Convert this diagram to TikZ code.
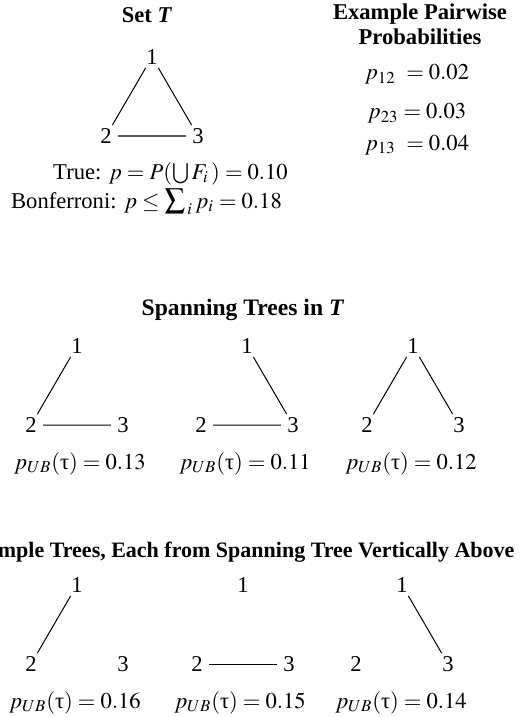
\documentclass[tikz,border=0pt]{standalone}
\usepackage{mathptmx}
\usepackage[no-math]{fontspec}
\setmainfont{Liberation Serif}
\usetikzlibrary{positioning}

\newcommand{\ptau}{\mbox{τ}}
\newcommand{\bigsum}{\mathop{\mbox{\fontsize{14.5}{14.5}\selectfont$\sum$}}\nolimits}

\begin{document}
\begin{tikzpicture}[
  x=0.5pt, y=-0.5pt,
  font=\fontsize{11.3}{13.6}\selectfont,
  vert/.style={inner xsep=3pt, inner ysep=1.5pt},
  treeedge/.style={line width=0.5pt},
  ttl/.style={font=\fontsize{11.3}{12.5}\selectfont\bfseries, anchor=base},
  lab/.style={anchor=base},
  node distance=39.5pt and 23pt, on grid
]
\useasboundingbox (0,0) rectangle (522,717);
% set T and its bounds
\node[ttl] (settitle) at (147,22.6) {Set \textit{T}};
\node[vert] (a1) at (152,57) {1};
\node[vert, below left=of a1] (a2) {2};
\node[vert, below right=of a1] (a3) {3};
\draw[treeedge] (a1) -- (a2) -- (a3) -- (a1);
\node[lab] (truep) at (170.5,179) {True: $p = P(\bigcup F_i\,) = 0.10$};
\node[lab] (bonf) at (146.5,208) {Bonferroni: $p \le \bigsum_{\,i} p_i = 0.18$};
% pairwise values
\node[ttl, align=center] (probtitle) at (420,44.6) {Example Pairwise\\Probabilities};
\node[lab] (p12) at (417,80) {$p_{12}\ = 0.02$};
\node[lab] (p23) at (417,119) {$p_{23} = 0.03$};
\node[lab] (p13) at (417,150) {$p_{13}\ = 0.04$};
% spanning trees
\node[ttl, font=\fontsize{11.8}{13}\selectfont\bfseries] (spantitle) at (243,315) {Spanning Trees in \textit{T}};
\node[vert] (b1) at (77,346) {1};
\node[vert, below left=of b1] (b2) {2};
\node[vert, below right=of b1] (b3) {3};
\draw[treeedge] (b1) -- (b2) -- (b3);
\node[lab] (pb) at (80,469) {$p_{UB}(\ptau) = 0.13$};
\node[vert] (c1) at (247,346) {1};
\node[vert, below left=of c1] (c2) {2};
\node[vert, below right=of c1] (c3) {3};
\draw[treeedge] (c1) -- (c3) -- (c2);
\node[lab] (pc) at (245,469) {$p_{UB}(\ptau) = 0.11$};
\node[vert] (d1) at (413,346) {1};
\node[vert, below left=of d1] (d2) {2};
\node[vert, below right=of d1] (d3) {3};
\draw[treeedge] (d2) -- (d1) -- (d3);
\node[lab] (pd) at (411,469) {$p_{UB}(\ptau) = 0.12$};
% example trees
\node[ttl, anchor=base east, font=\fontsize{11}{12}\selectfont\bfseries] (extitle) at (521.5,557) {Example Trees, Each from Spanning Tree Vertically Above};
\node[vert] (e1) at (77,585) {1};
\node[vert, below left=of e1] (e2) {2};
\node[vert, below right=of e1] (e3) {3};
\draw[treeedge] (e1) -- (e2);
\node[lab] (pe) at (75,708) {$p_{UB}(\ptau) = 0.16$};
\node[vert] (f1) at (243,585) {1};
\node[vert, below left=of f1] (f2) {2};
\node[vert, below right=of f1] (f3) {3};
\draw[treeedge] (f2) -- (f3);
\node[lab] (pf) at (240,708) {$p_{UB}(\ptau) = 0.15$};
\node[vert] (g1) at (402,585) {1};
\node[vert, below left=of g1] (g2) {2};
\node[vert, below right=of g1] (g3) {3};
\draw[treeedge] (g1) -- (g3);
\node[lab] (pg) at (401,708) {$p_{UB}(\ptau) = 0.14$};
\end{tikzpicture}
\end{document}
